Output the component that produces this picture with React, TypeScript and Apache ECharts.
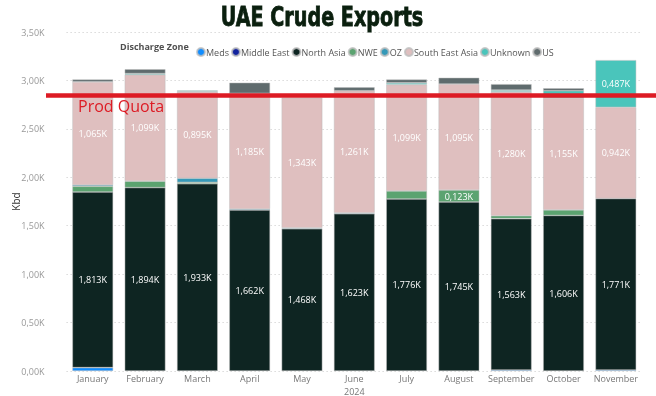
import { useEffect, useRef } from 'react';
import * as echarts from 'echarts';

const MONTHS = ['January', 'February', 'March', 'April', 'May', 'June', 'July', 'August', 'September', 'October', 'November'];
const ZONES = ['Meds', 'Middle East', 'North Asia', 'NWE', 'OZ', 'South East Asia', 'Unknown', 'US'];
const ZONE_COLORS = ['#118DFF', '#12239E', '#0E2522', '#5BA370', '#3599B8', '#DFBFBF', '#4AC5BB', '#5F6B6D'];

const MEDS = [0.035, 0, 0, 0, 0, 0, 0, 0, 0.01, 0, 0.01];
const MIDDLE_EAST = [0, 0, 0, 0, 0, 0, 0, 0, 0, 0, 0];
const NORTH_ASIA = [1.813, 1.894, 1.933, 1.662, 1.468, 1.623, 1.776, 1.745, 1.563, 1.606, 1.771];
const NWE = [0.059, 0.066, 0.015, 0, 0, 0, 0.083, 0.123, 0.03, 0.058, 0];
const OZ = [0.013, 0, 0.042, 0.01, 0.01, 0.01, 0, 0, 0, 0, 0];
const SOUTH_EAST_ASIA = [1.065, 1.099, 0.895, 1.185, 1.343, 1.261, 1.099, 1.095, 1.28, 1.155, 0.942];
const UNKNOWN = [0, 0.012, 0.012, 0.01, 0, 0, 0.017, 0, 0.017, 0.075, 0.487];
const US = [0.025, 0.045, 0, 0.11, 0, 0.035, 0.035, 0.065, 0.062, 0.025, 0];

const SERIES_VALUES = [MEDS, MIDDLE_EAST, NORTH_ASIA, NWE, OZ, SOUTH_EAST_ASIA, UNKNOWN, US];

const PROD_QUOTA = 2.845;
const Y_MAX = 3.5;
const Y_STEP = 0.5;
const YEAR_LABEL = '2024';

const FONT = "'Open Sans', 'Noto Sans', sans-serif";

const fmtK = (v: number, d: number) => v.toFixed(d).replace('.', ',') + 'K';

export default function App() {
  const ref = useRef<HTMLDivElement>(null);
  useEffect(() => {
    const chart = echarts.init(ref.current!, null, { renderer: 'svg' });
    const series = ZONES.map((name, i) => ({
      name,
      type: 'bar',
      stack: 'total',
      barWidth: '78%',
      itemStyle: { color: ZONE_COLORS[i], borderColor: 'rgba(190,190,190,0.8)', borderWidth: 0.6 },
      label: {
        show: true,
        position: 'inside',
        color: '#ffffff',
        fontSize: 9,
        fontFamily: FONT,
        formatter: (p: any) => (p.value >= 0.12 ? fmtK(p.value, 3) : ''),
      },
      data: SERIES_VALUES[i].map((v) => (v === 0 ? null : v)),
    }));

    chart.setOption({
      animation: false,
      textStyle: { fontFamily: FONT },
      legend: {
        left: 191,
        top: 42,
        icon: 'circle',
        itemWidth: 8,
        itemHeight: 8,
        itemGap: 2,
        textStyle: { fontSize: 9, color: '#555', padding: [0, 0, 0, -4] },
        data: ZONES,
      },
      grid: { left: 66.6, right: 14, top: 32, bottom: 25, outerBoundsMode: 'none', containLabel: false },
      xAxis: {
        type: 'category',
        data: MONTHS,
        name: YEAR_LABEL,
        nameLocation: 'middle',
        nameGap: 16,
        nameMoveOverlap: false,
        nameTextStyle: { fontSize: 9, color: '#777', lineHeight: 9 },
        axisLine: { show: false },
        axisTick: { show: false },
        axisLabel: { fontSize: 9, color: '#777', margin: 3, interval: 0 },
      },
      yAxis: {
        type: 'value',
        min: 0,
        max: Y_MAX,
        interval: Y_STEP,
        name: 'Kbd',
        nameLocation: 'middle',
        nameGap: 46,
        nameMoveOverlap: false,
        nameTextStyle: { fontSize: 10, color: '#333' },
        axisLabel: { fontSize: 9, color: '#999', margin: 22, formatter: (v: number) => fmtK(v, 2) },
        splitLine: { lineStyle: { type: [1, 3], color: '#c8c8c8', width: 1 } },
      },
      series,
    });

    const yq = chart.convertToPixel({ yAxisIndex: 0 }, PROD_QUOTA) as number;
    chart.setOption({
      graphic: [
        {
          id: 'title',
          type: 'text',
          x: 322,
          y: 4,
          scaleX: 0.82,
          originX: 0,
          style: {
            text: 'UAE Crude Exports',
            fontSize: 26,
            fontWeight: 'bold',
            fill: '#0a1f0e',
            stroke: '#0a1f0e',
            lineWidth: 0.8,
            align: 'center',
            verticalAlign: 'top',
            fontFamily: "'DejaVu Sans Condensed', 'DejaVu Sans', sans-serif",
          },
        },
        {
          id: 'legendTitle',
          type: 'text',
          left: 120,
          top: 42,
          style: { text: 'Discharge Zone', fontSize: 9, fontWeight: 'bold', fill: '#505050', fontFamily: FONT },
        },
        {
          id: 'quotaLine',
          type: 'line',
          shape: { x1: 46, y1: yq, x2: 656, y2: yq },
          style: { stroke: '#DD1B24', lineWidth: 4.5 },
          z: 100,
        },
        {
          id: 'quotaText',
          type: 'text',
          x: 78,
          y: yq + 3,
          style: { text: 'Prod Quota', fontSize: 16, fill: '#DD1B24', fontFamily: FONT },
          z: 100,
        },
      ],
    });
    return () => chart.dispose();
  }, []);
  return <div ref={ref} style={{ position: 'fixed', left: 0, top: 0, width: 656, height: 396 }} />;
}
